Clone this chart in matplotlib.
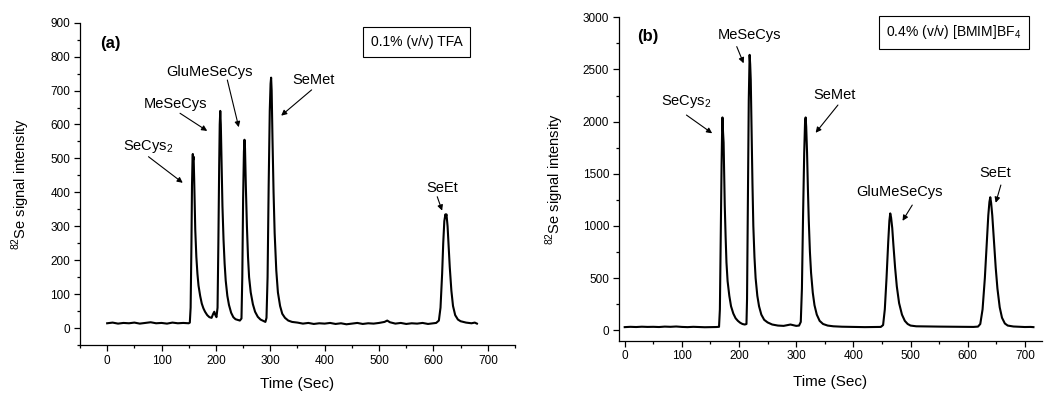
import numpy as np
import matplotlib.pyplot as plt
from matplotlib.ticker import MultipleLocator

plt.rcParams['font.family'] = ['Liberation Sans', 'DejaVu Sans']
plt.rcParams['mathtext.fontset'] = 'custom'
plt.rcParams['mathtext.rm'] = 'Liberation Sans'

# (a) 0.1% (v/v) TFA mobile phase
time_a = [0, 10, 20, 30, 40, 50, 60, 70, 80, 90, 100, 110, 120, 130, 140, 150,
          152, 153.5, 155, 156, 157, 157.5, 158, 159, 160, 161, 162, 164, 166, 168,
          171, 174, 177, 180, 184, 188, 192, 195, 197, 199, 201,
          203, 204.5, 206, 207, 208, 208.5, 209, 210, 211, 212, 214, 216, 218,
          221, 224, 228, 232, 236, 240, 244, 247,
          248.5, 250, 251.5, 252.5, 253.5, 255, 257, 259, 261, 264, 268, 272, 277,
          282, 287, 291, 293, 295, 297, 299, 300.5, 301.5, 302.5, 304, 306, 308,
          311, 314, 318, 322, 327, 333, 340, 350, 360, 370, 380, 390, 400, 410,
          420, 430, 440, 450, 460, 470, 480, 490, 500, 510, 515, 520, 530, 540,
          550, 560, 570, 580, 590, 600, 605, 610, 613, 616, 618, 620, 622, 623,
          624, 626, 628, 630, 633, 636, 640, 645, 650, 660, 670, 676, 680]
signal_a = [14, 16, 13, 15, 14, 16, 13, 15, 17, 14, 15, 13, 16, 14, 15, 14,
            16, 60, 250, 420, 500, 513, 495, 505, 440, 360, 290, 210, 160, 125,
            95, 72, 58, 48, 38, 32, 30, 42, 48, 38, 32,
            60, 250, 480, 600, 640, 620, 600, 520, 440, 360, 260, 190, 140,
            95, 68, 45, 32, 26, 24, 22, 28,
            150, 380, 520, 555, 530, 420, 300, 210, 150, 105, 70, 48, 33,
            25, 21, 18, 30, 150, 420, 640, 720, 738, 700, 560, 400, 280,
            170, 105, 65, 42, 30, 22, 18, 16, 13, 15, 12, 14, 13, 15,
            12, 14, 11, 13, 15, 12, 14, 13, 15, 18, 22, 17, 13, 15,
            12, 14, 13, 15, 12, 14, 15, 22, 60, 160, 250, 315, 335, 330,
            335, 300, 240, 180, 110, 65, 38, 25, 20, 16, 14, 16, 13]

# (b) 0.4% (v/v) [BMIM]BF4 mobile phase
time_b = [0, 10, 20, 30, 40, 50, 60, 70, 80, 90, 100, 110, 120, 130, 140, 150,
          160, 165, 166.5, 168, 169.5, 170.5, 171, 172, 173, 174, 175, 176.5, 178,
          180, 183, 186, 190, 194, 198, 202, 206, 210, 213,
          214, 215.5, 217, 218.5, 219.5, 220.5, 222, 223.5, 225, 227, 229, 232,
          235, 239, 244, 250, 258, 268, 278, 285, 290, 295, 300, 305,
          308, 310, 312, 314, 315.5, 316.5, 317.5, 319, 320.5, 322, 324, 326, 329,
          332, 336, 341, 347, 355, 365, 380, 400, 420, 440, 448,
          452, 455, 458, 461, 463, 464.5, 466, 468, 470, 473, 476, 480, 485, 490,
          495, 500, 510, 530, 550, 570, 590, 610, 618,
          622, 626, 630, 633, 636, 638, 639.5, 641, 643, 646, 649, 652, 656, 660,
          665, 670, 680, 690, 700, 710, 715]
signal_b = [30, 33, 31, 34, 32, 33, 31, 35, 33, 36, 32, 30, 33, 31, 29, 30,
            31, 33, 200, 900, 1600, 1950, 2040, 1900, 1800, 1500, 1200, 900, 650,
            470, 330, 230, 160, 115, 90, 72, 60, 55, 60,
            300, 1200, 2200, 2640, 2550, 2400, 1900, 1400, 1000, 700, 500, 330,
            230, 150, 100, 75, 55, 45, 42, 50, 55, 48, 42, 45,
            80, 400, 1100, 1700, 2000, 2040, 1950, 1700, 1350, 1050, 750, 550, 360,
            240, 150, 90, 60, 45, 38, 34, 32, 30, 31, 32,
            50, 200, 500, 850, 1050, 1120, 1080, 980, 820, 600, 420, 260, 150, 90,
            60, 45, 38, 36, 35, 34, 33, 32, 35,
            60, 200, 500, 800, 1100, 1230, 1275, 1220, 1100, 850, 600, 400, 220, 120,
            65, 45, 36, 33, 31, 32, 30]

fig = plt.figure(figsize=(10.44, 3.94), dpi=100)
ax1 = fig.add_axes([0.0766, 0.1244, 0.4167, 0.818])
ax2 = fig.add_axes([0.5929, 0.1353, 0.4052, 0.8208])

ax1.plot(time_a, signal_a, color='black', lw=1.5)
ax2.plot(time_b, signal_b, color='black', lw=1.5)

ax1.set_xlim(-50, 750)
ax1.set_ylim(-50, 900)
ax1.xaxis.set_major_locator(MultipleLocator(100))
ax1.xaxis.set_minor_locator(MultipleLocator(50))
ax1.yaxis.set_major_locator(MultipleLocator(100))
ax1.yaxis.set_minor_locator(MultipleLocator(50))

ax2.set_xlim(-10, 730)
ax2.set_ylim(-100, 3000)
ax2.xaxis.set_major_locator(MultipleLocator(100))
ax2.xaxis.set_minor_locator(MultipleLocator(50))
ax2.yaxis.set_major_locator(MultipleLocator(500))
ax2.yaxis.set_minor_locator(MultipleLocator(250))

for ax in (ax1, ax2):
    ax.spines['top'].set_visible(False)
    ax.spines['right'].set_visible(False)
    ax.spines['left'].set_linewidth(0.9)
    ax.spines['bottom'].set_linewidth(0.9)
    ax.tick_params(which='major', direction='out', length=4, width=0.9,
                   labelsize=8.5, pad=3)
    ax.tick_params(which='minor', direction='out', length=2.5, width=0.9)
    ax.set_xlabel('Time (Sec)', fontsize=11)
    ax.set_ylabel(r'$^{\mathregular{82}}$Se signal intensity', fontsize=10.5)
ax1.yaxis.set_label_coords(-0.11, 0.5)
ax2.yaxis.set_label_coords(-0.125, 0.5)
ax1.xaxis.set_label_coords(0.5, -0.1)
ax2.xaxis.set_label_coords(0.5, -0.105)

arrow = dict(arrowstyle='-|>', color='black', lw=0.8, mutation_scale=8,
             shrinkA=0, shrinkB=0)


def label(ax, text, pos, tail, head):
    ax.text(pos[0], pos[1], text, fontsize=10.5, ha='center', va='center')
    ax.annotate('', xy=head, xytext=tail, arrowprops=arrow)


ax1.text(6, 840, '(a)', fontsize=12, fontweight='bold', ha='center', va='center')
label(ax1, r'SeCys$_\mathregular{2}$', (76, 534), (76, 505), (139, 428))
label(ax1, 'MeSeCys', (126, 660), (134, 633), (184, 581))
label(ax1, 'GluMeSeCys', (189, 756), (221, 731), (242, 592))
label(ax1, 'SeMet', (380, 731), (376, 702), (320, 626))
label(ax1, 'SeEt', (616, 412), (607, 387), (616, 346))
ax1.text(569, 843, '0.1% (v/v) TFA', fontsize=10, ha='center', va='center',
         bbox=dict(boxstyle='square,pad=0.55', fc='white', ec='black', lw=0.8))

ax2.text(41, 2815, '(b)', fontsize=12, fontweight='bold', ha='center', va='center')
label(ax2, 'MeSeCys', (219, 2831), (196, 2719), (208, 2559))
label(ax2, r'SeCys$_\mathregular{2}$', (108, 2191), (108, 2063), (153, 1888))
label(ax2, 'SeMet', (367, 2255), (373, 2159), (334, 1893))
label(ax2, 'GluMeSeCys', (481, 1327), (503, 1200), (486, 1049))
label(ax2, 'SeEt', (649, 1504), (658, 1392), (649, 1222))
ax2.text(576, 2855, r'0.4% (v/v) [BMIM]BF$_\mathregular{4}$', fontsize=10,
         ha='center', va='center',
         bbox=dict(boxstyle='square,pad=0.55', fc='white', ec='black', lw=0.8))

fig.savefig('out.png', dpi=100)
